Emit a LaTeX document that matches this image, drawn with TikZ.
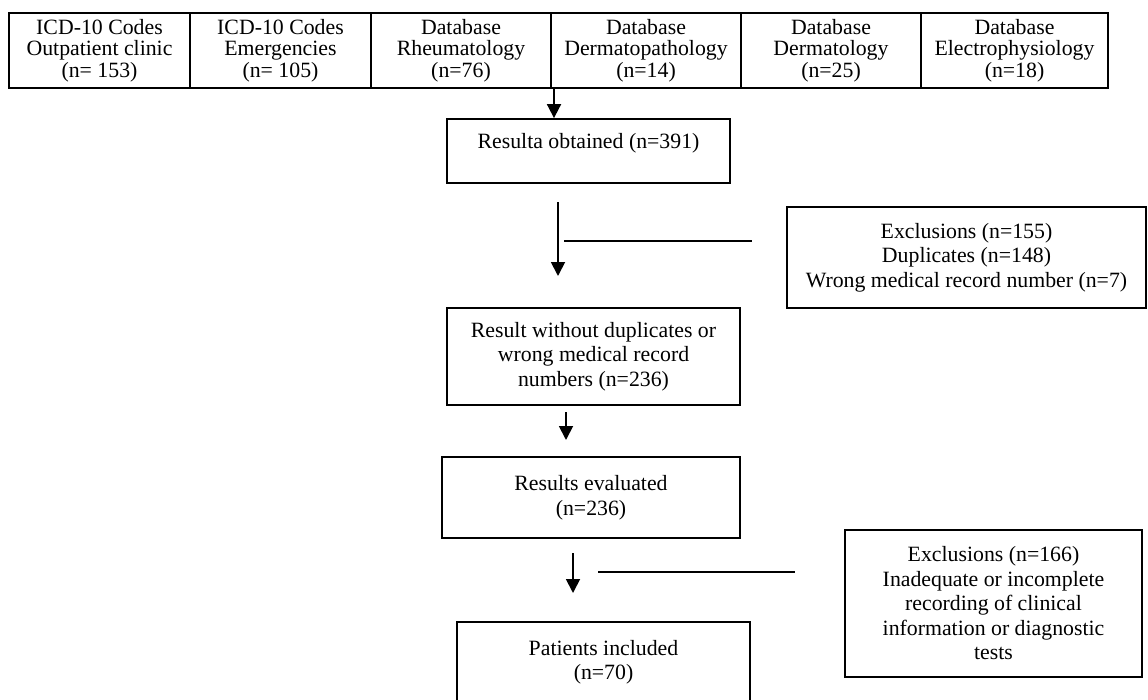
\documentclass[tikz,border=0pt]{standalone}
\usepackage{fontspec}
\setmainfont{Liberation Serif}
\usetikzlibrary{arrows.meta}

\begin{document}
\begin{tikzpicture}[x=1pt, y=-1pt,
  cell/.style={
    draw, line width=1.8pt, outer sep=0pt, inner sep=0pt, align=center,
    minimum height=75pt, font=\fontsize{21.8}{21.5}\selectfont
  },
  box/.style={
    draw, line width=1.8pt, inner sep=0pt, align=center,
    font=\fontsize{21.8}{24.5}\selectfont
  },
  arrow/.style={-{Triangle[length=14pt, width=14pt]}, line width=1.8pt},
  bar/.style={line width=1.8pt}
]
  \useasboundingbox (0,0) rectangle (1148,699);
  \clip (0,0) rectangle (1148,699);

  % sources
  \node[cell, minimum width=181pt] (icdout) at (99.5,50.5) {ICD-10 Codes\\Outpatient clinic\\(n= 153)};
  \node[cell, minimum width=181pt] (icdemg) at (280.5,50.5) {ICD-10 Codes\\Emergencies\\(n= 105)};
  \node[cell, minimum width=180pt] (dbrheu) at (461,50.5) {Database\\Rheumatology\\(n=76)};
  \node[cell, minimum width=190pt] (dbdpat) at (646,50.5) {Database\\Dermatopathology\\(n=14)};
  \node[cell, minimum width=180pt] (dbderm) at (831,50.5) {Database\\Dermatology\\(n=25)};
  \node[cell, minimum width=187pt] (dbelec) at (1014.5,50.5) {Database\\Electrophysiology\\(n=18)};

  % flow
  \node[box, minimum width=283pt, minimum height=64pt, text depth=21pt] (obtained) at (588.5,151) {Resulta obtained (n=391)};
  \node[box, minimum width=293pt, minimum height=97pt] (nodup) at (593.5,356.5) {Result without duplicates or\\wrong medical record\\numbers (n=236)};
  \node[box, minimum width=298pt, minimum height=81pt] (evaluated) at (591,497.5) {Results evaluated\\(n=236)};
  \node[box, minimum width=293pt, minimum height=80pt] (included) at (603.5,662) {Patients included\\(n=70)};

  % exclusions
  \node[box, minimum width=359pt, minimum height=101pt] (excla) at (966.5,257.5) {Exclusions (n=155)\\Duplicates (n=148)\\Wrong medical record number (n=7)};
  \node[box, minimum width=297pt, minimum height=147pt] (exclb) at (993.5,603.5) {Exclusions (n=166)\\Inadequate or incomplete\\recording of clinical\\information or diagnostic\\tests};

  \coordinate (x1) at (554,0);
  \coordinate (a2s) at (558,202);
  \coordinate (a2e) at (558,276);
  \coordinate (b1s) at (564,241);
  \coordinate (b1e) at (752,241);
  \coordinate (a3s) at (566,412);
  \coordinate (a3e) at (566,440);
  \coordinate (a4s) at (573,553);
  \coordinate (a4e) at (573,593);
  \coordinate (b2s) at (598,572);
  \coordinate (b2e) at (795,572);

  \draw[arrow] (dbdpat.south -| x1) -- (obtained.north -| x1);
  \draw[arrow] (a2s) -- (a2e);
  \draw[bar] (b1s) -- (b1e);
  \draw[arrow] (a3s) -- (a3e);
  \draw[arrow] (a4s) -- (a4e);
  \draw[bar] (b2s) -- (b2e);
\end{tikzpicture}
\end{document}
